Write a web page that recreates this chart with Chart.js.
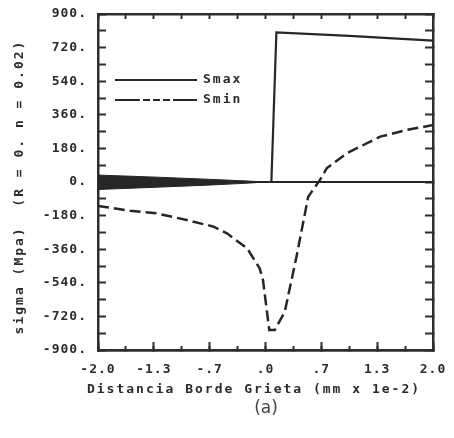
<!DOCTYPE html>
<html>
<head>
<meta charset="utf-8">
<script src="https://cdn.jsdelivr.net/npm/chart.js@4"></script>
<style>
  html, body { margin: 0; padding: 0; background: #fff; }
</style>
</head>
<body>
<canvas id="plot" width="454" height="438"></canvas>
<script>
/* ---------- DATA ---------- */
const xTickLabels = ['-2.0', '-1.3', '-.7', '.0', '.7', '1.3', '2.0'];
const yTickLabels = ['-900.', '-720.', '-540.', '-360.', '-180.', '0.', '180.', '360.', '540.', '720.', '900.'];

const smaxX = [-2.0, 0.07, 0.13, 1.0, 2.0];
const smaxY = [0, 0, 802, 783, 757];

const sminX = [-2.0, -1.62, -1.30, -0.94, -0.62, -0.46, -0.22, -0.07, -0.03, 0.045, 0.11, 0.23, 0.37, 0.51, 0.65, 0.73, 0.97, 1.37, 1.69, 2.0];
const sminY = [-128, -154, -168, -204, -239, -275, -355, -462, -525, -793, -793, -695, -400, -79, 11, 73, 154, 243, 279, 305];

// dense oscillation of Smax near the left, drawn as a filled band
const bandX = [-2.0, -1.3, -0.7, -0.2, 0.0];
const bandTop = [37, 26, 15, 5, 0];
const bandBottom = [-40, -28, -17, -6, 0];

const zeroX = [-2.0, 2.0];
const zeroY = [0, 0];

const pts = (xs, ys) => xs.map((x, i) => ({ x, y: ys[i] }));

/* ---------- STYLE ---------- */
const ink = '#262626';
const tickFont = { family: "'DejaVu Sans Mono', monospace", size: 13, weight: 'bold' };
const frame = { display: true, width: 2.5, color: '#2e2e2e' };
const noPad = s => { s.paddingTop = 0; s.paddingBottom = 0; s.paddingLeft = 0; s.paddingRight = 0; };

function tickGrid(len) {
  return { drawOnChartArea: false, drawTicks: true, tickLength: len, tickWidth: 2, tickColor: '#2e2e2e' };
}

/* ---------- TEXT + LEGEND ---------- */
const paperText = {
  id: 'paperText',
  beforeDraw(chart) {
    chart.ctx.letterSpacing = '1px';
  },
  afterDraw(chart) {
    const ctx = chart.ctx;
    ctx.save();
    ctx.fillStyle = '#2b2b2b';
    ctx.font = "bold 13px 'DejaVu Sans Mono'";
    ctx.letterSpacing = '2px';
    ctx.textAlign = 'center';
    ctx.textBaseline = 'middle';
    ctx.fillText('Distancia Borde Grieta (mm x 1e-2)', 254, 390);

    ctx.save();
    ctx.translate(20, 187);
    ctx.rotate(-Math.PI / 2);
    ctx.fillText('sigma (Mpa)  (R = 0. n = 0.02)', 0, 0);
    ctx.restore();

    // legend
    ctx.strokeStyle = ink;
    ctx.lineWidth = 2;
    ctx.beginPath();
    ctx.moveTo(115, 80); ctx.lineTo(197, 80);
    ctx.stroke();
    ctx.setLineDash([25, 3, 7, 3, 7, 3, 7, 3, 40]);
    ctx.beginPath();
    ctx.moveTo(115, 100); ctx.lineTo(197, 100);
    ctx.stroke();
    ctx.setLineDash([]);
    ctx.textAlign = 'left';
    ctx.fillText('Smax', 203, 80);
    ctx.fillText('Smin', 203, 100);

    ctx.letterSpacing = '0px';
    ctx.fillStyle = '#444';
    ctx.font = "17px 'DejaVu Sans'";
    ctx.textAlign = 'center';
    ctx.fillText('(a)', 266, 409);
    ctx.restore();
  }
};

/* ---------- CHART ---------- */
new Chart(document.getElementById('plot'), {
  type: 'line',
  data: {
    datasets: [
      { label: 'band', data: pts(bandX, bandTop), borderColor: ink, backgroundColor: ink,
        borderWidth: 1, pointRadius: 0, fill: '+1' },
      { label: 'band2', data: pts(bandX, bandBottom), borderColor: ink,
        borderWidth: 1, pointRadius: 0, fill: false },
      { label: 'zero', data: pts(zeroX, zeroY), borderColor: ink, borderWidth: 2, pointRadius: 0, fill: false },
      { label: 'Smax', data: pts(smaxX, smaxY), borderColor: ink, borderWidth: 2.2, pointRadius: 0, fill: false },
      { label: 'Smin', data: pts(sminX, sminY), borderColor: ink, borderWidth: 2.5, borderDash: [11, 5],
        pointRadius: 0, fill: false }
    ]
  },
  options: {
    responsive: false,
    animation: false,
    layout: { padding: { left: 0, right: 21, top: 14, bottom: 0 } },
    plugins: { legend: { display: false }, tooltip: { enabled: false } },
    scales: {
      x: {
        type: 'linear', position: 'bottom', min: -2, max: 2, weight: 1,
        border: frame, grid: tickGrid(-8),
        ticks: { stepSize: 2 / 3, padding: 20, autoSkip: false, maxRotation: 0, color: '#2b2b2b', font: tickFont,
                 callback: (v, i) => xTickLabels[i] },
        afterFit: s => { s.height = 88; noPad(s); }
      },
      xMinor: {
        type: 'linear', position: 'bottom', min: -2, max: 2, weight: 0,
        border: frame, grid: tickGrid(-4),
        ticks: { stepSize: 1 / 3, autoSkip: false, display: false },
        afterFit: s => { s.height = 0; noPad(s); }
      },
      xTop: {
        type: 'linear', position: 'top', min: -2, max: 2,
        border: frame, grid: tickGrid(-5),
        ticks: { stepSize: 1 / 3, autoSkip: false, display: false },
        afterFit: s => { s.height = 0; noPad(s); }
      },
      y: {
        type: 'linear', position: 'left', min: -900, max: 900,
        border: frame, grid: tickGrid(-8),
        ticks: { stepSize: 90, padding: 19, autoSkip: false, color: '#2b2b2b', font: tickFont,
                 callback: (v, i) => (i % 2 === 0 ? yTickLabels[i / 2] : '') },
        afterFit: s => { s.width = 98; noPad(s); }
      },
      yRight: {
        type: 'linear', position: 'right', min: -900, max: 900,
        border: frame, grid: tickGrid(-8),
        ticks: { stepSize: 90, autoSkip: false, display: false },
        afterFit: s => { s.width = 0; noPad(s); }
      }
    }
  },
  plugins: [paperText]
});
</script>
</body>
</html>
